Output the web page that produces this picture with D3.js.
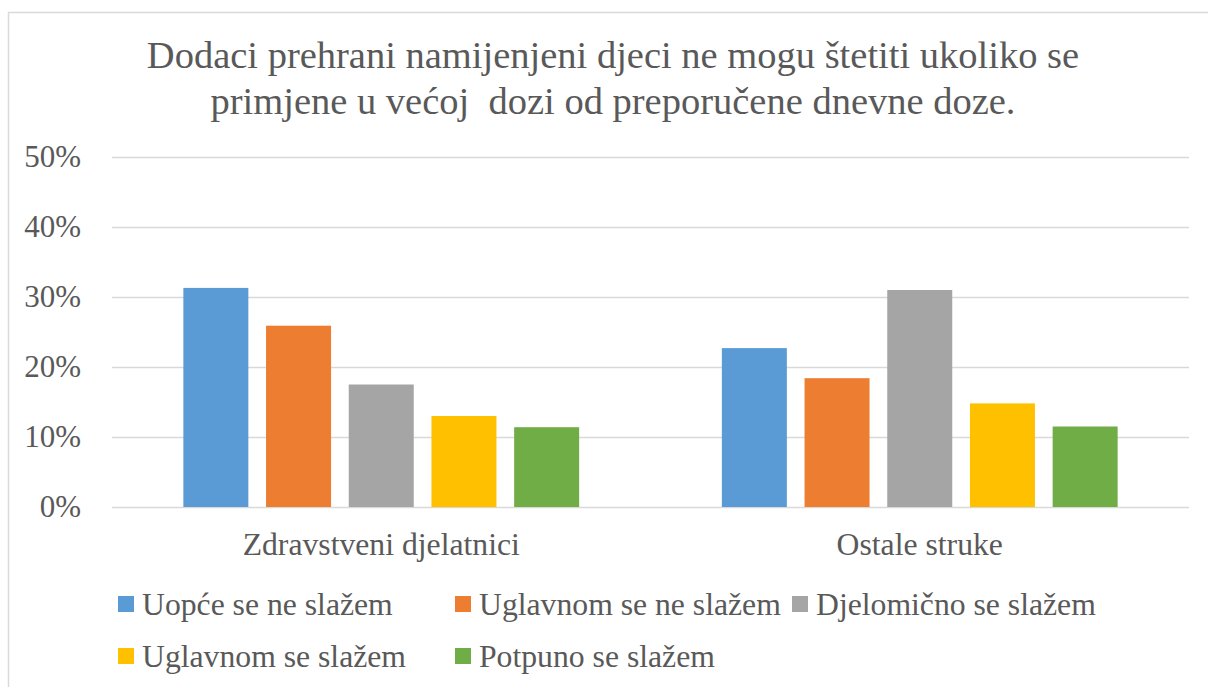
<!DOCTYPE html>
<html>
<head>
<meta charset="utf-8">
<script src="https://cdn.jsdelivr.net/npm/d3@7"></script>
<style>
  body { margin: 0; background: #fff; }
  svg text { font-family: "Liberation Serif", Tinos, "Times New Roman", Times, "DejaVu Serif", serif; }
</style>
</head>
<body>
<div id="chart"></div>
<script>
// data
const categories = ["Zdravstveni djelatnici", "Ostale struke"];
const seriesNames = ["Uopće se ne slažem", "Uglavnom se ne slažem", "Djelomično se slažem", "Uglavnom se slažem", "Potpuno se slažem"];
const zdravstveni = [0.313, 0.259, 0.175, 0.130, 0.114];
const ostale = [0.227, 0.184, 0.310, 0.148, 0.115];
const yTicks = [0, 0.1, 0.2, 0.3, 0.4, 0.5];
const colors = ["#5b9bd5", "#ed7d31", "#a5a5a5", "#ffc000", "#70ad47"];
const titleLines = ["Dodaci prehrani namijenjeni djeci ne mogu štetiti ukoliko se", "primjene u većoj  dozi od preporučene dnevne doze."];

const width = 1208, height = 687;
const margin = { top: 157, right: 19, bottom: 180, left: 112 };
const textColor = "#595959";

const svg = d3.select("#chart").append("svg")
    .attr("width", width)
    .attr("height", height);

// chart area border (runs off right and bottom edges)
svg.append("rect")
    .attr("x", 8.5).attr("y", 12.5)
    .attr("width", 1220).attr("height", 700)
    .attr("fill", "none")
    .attr("stroke", "#d9d9d9")
    .attr("stroke-width", 1.5);

// title
svg.append("text")
    .attr("text-anchor", "middle")
    .attr("fill", textColor)
    .style("font-size", "38.5px")
    .style("white-space", "pre")
    .selectAll("tspan")
    .data(titleLines)
    .enter().append("tspan")
    .attr("x", 613)
    .attr("y", (d, i) => 68 + i * 46)
    .text(d => d);

const x0 = d3.scaleBand()
    .domain(categories)
    .range([margin.left, width - margin.right])
    .paddingInner(0.265)
    .paddingOuter(0.1325);

const x1 = d3.scaleBand()
    .domain(seriesNames)
    .range([0, x0.bandwidth()])
    .paddingInner(0.214)
    .paddingOuter(0);

const y = d3.scaleLinear()
    .domain([0, 0.5])
    .range([height - margin.bottom, margin.top]);

// gridlines + tick labels
const yAxis = svg.append("g")
    .attr("transform", `translate(${margin.left},0)`)
    .call(d3.axisLeft(y).tickValues(yTicks).tickFormat(d3.format(".0%"))
        .tickSize(-(width - margin.left - margin.right)).tickPadding(31));
yAxis.attr("font-family", null).attr("font-size", null);
yAxis.select(".domain").remove();
yAxis.selectAll(".tick line").attr("stroke", "#d9d9d9").attr("stroke-width", 1.4);
yAxis.selectAll(".tick text")
    .attr("fill", textColor)
    .style("font-size", "31px");

// bars
const rows = categories.map((c, i) => ({ cat: c, values: [zdravstveni, ostale][i] }));
const groups = svg.selectAll(".group")
    .data(rows)
    .enter().append("g")
    .attr("transform", d => `translate(${x0(d.cat)},0)`);

groups.selectAll("rect")
    .data(d => d.values.map((v, j) => ({ name: seriesNames[j], value: v, color: colors[j] })))
    .enter().append("rect")
    .attr("x", d => x1(d.name))
    .attr("y", d => y(d.value))
    .attr("width", x1.bandwidth())
    .attr("height", d => y(0) - y(d.value))
    .attr("fill", d => d.color);

// category labels
svg.selectAll(".cat")
    .data(categories)
    .enter().append("text")
    .attr("x", d => x0(d) + x0.bandwidth() / 2)
    .attr("y", 555)
    .attr("text-anchor", "middle")
    .attr("fill", textColor)
    .style("font-size", "31.7px")
    .text(d => d);

// legend
const legend = svg.selectAll(".legend")
    .data(seriesNames)
    .enter().append("g")
    .attr("transform", (d, i) => `translate(${118 + (i % 3) * 337},${604 + Math.floor(i / 3) * 52})`);

legend.append("rect")
    .attr("x", 0).attr("y", -8)
    .attr("width", 16).attr("height", 16)
    .attr("fill", (d, i) => colors[i]);

legend.append("text")
    .attr("x", 24)
    .attr("y", 11)
    .attr("fill", textColor)
    .style("font-size", "31.7px")
    .text(d => d);
</script>
</body>
</html>
